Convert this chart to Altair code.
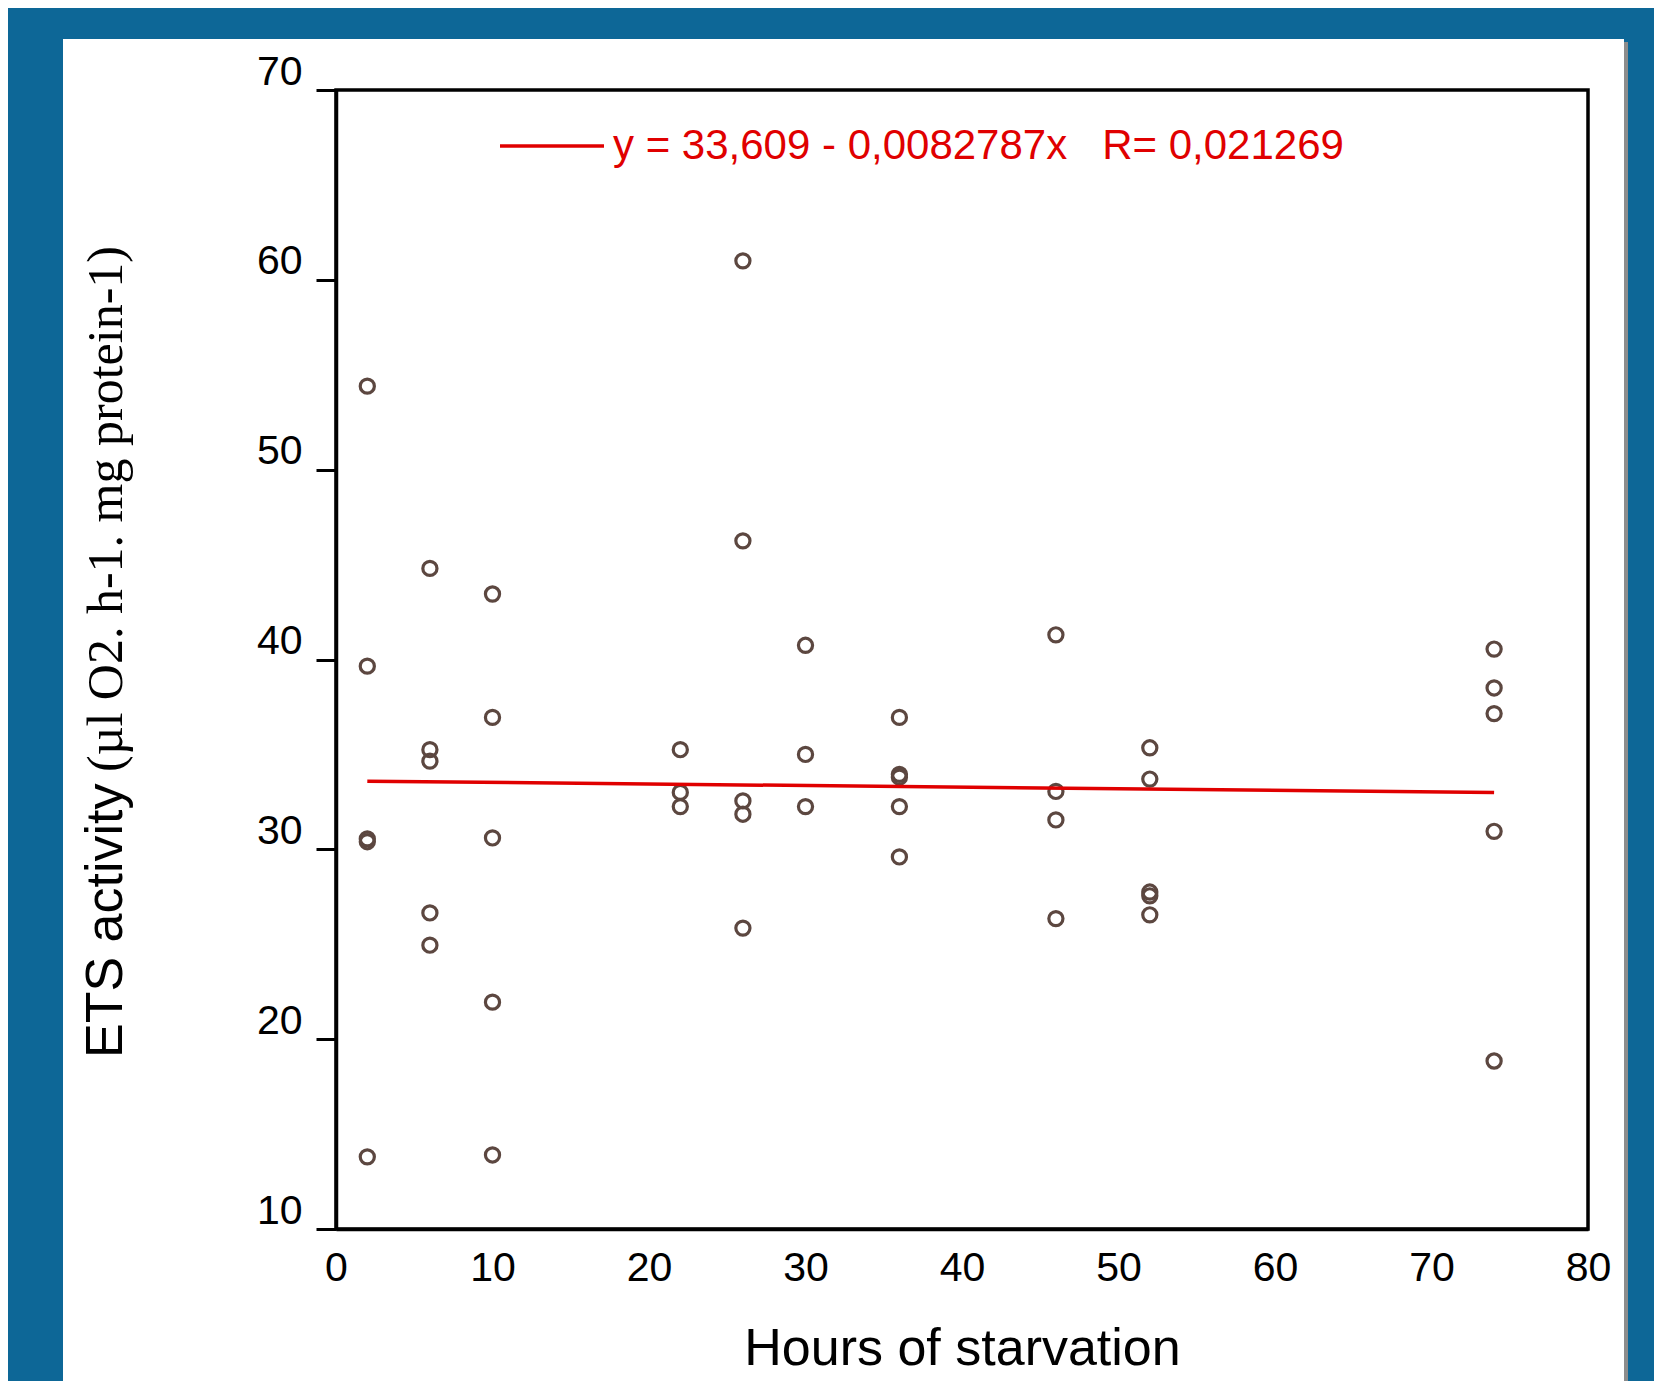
import altair as alt
import pandas as pd

# ---- data ----
hours_groups = [2, 6, 10, 22, 26, 30, 36, 46, 52, 74]
ets_groups = [
    [54.4, 39.65, 30.55, 30.4, 13.8],
    [44.8, 35.25, 34.65, 26.65, 24.95],
    [43.45, 36.95, 30.6, 21.95, 13.9],
    [35.25, 33.0, 32.25],
    [61.0, 46.25, 32.55, 31.85, 25.85],
    [40.75, 35.0, 32.25],
    [36.95, 33.95, 33.8, 32.25, 29.6],
    [41.3, 33.05, 31.55, 26.35],
    [35.35, 33.7, 27.75, 27.55, 26.55],
    [40.55, 38.5, 37.15, 30.95, 18.85],
]
fit_x = [2, 74]
fit_y = [33.592, 32.996]
fit_label = "y = 33,609 - 0,0082787x\u00a0\u00a0\u00a0R= 0,021269"
x_ticks = [0, 10, 20, 30, 40, 50, 60, 70, 80]
y_ticks = [10, 20, 30, 40, 50, 60, 70]
x_title = "Hours of starvation"
y_title_sans = "ETS activity"
y_title_serif = "(\u00b5l O2. h-1. mg protein-1)"

hours, ets = [], []
for h, vals in zip(hours_groups, ets_groups):
    for v in vals:
        hours.append(h)
        ets.append(v)
df_pts = pd.DataFrame({"hours": hours, "ets": ets})
df_fit = pd.DataFrame({"hours": fit_x, "ets": fit_y, "label": [fit_label] * len(fit_x)})

W, H = 1252, 1139
SANS = "Liberation Sans"
SERIF = "Liberation Serif"
RED = "#e00000"
PT = "#5c4740"

one = alt.Data(values=[{"a": 1}])

panel = alt.Chart(one).mark_rect(color="white").encode(
    x=alt.value(-273), x2=alt.value(1288), y=alt.value(-51), y2=alt.value(1291)
)
shadow = alt.Chart(one).mark_rect(color="#8c8c8c").encode(
    x=alt.value(1288), x2=alt.value(1292), y=alt.value(-48), y2=alt.value(1291)
)
frame = alt.Chart(one).mark_rect(filled=False, stroke="black", strokeWidth=3.5).encode(
    x=alt.value(0), x2=alt.value(W), y=alt.value(0), y2=alt.value(H)
)

x_enc = alt.X(
    "hours:Q",
    scale=alt.Scale(domain=[0, 80], nice=False, zero=False),
    axis=alt.Axis(
        values=x_ticks, title=x_title, grid=False, ticks=False, tickSize=0,
        domainColor="black", domainWidth=3.5,
        labelFont=SANS, labelFontSize=41, labelColor="black", labelPadding=19,
        labelFlush=False, labelOverlap=False,
        titleFont=SANS, titleFontSize=52, titleFontWeight="normal", titleColor="black",
        titlePadding=35, zindex=1,
    ),
)
y_enc = alt.Y(
    "ets:Q",
    scale=alt.Scale(domain=[10, 70], nice=False, zero=False),
    axis=alt.Axis(
        values=y_ticks, title=None, grid=False, ticks=True, tickSize=20, tickWidth=3,
        tickColor="black", domainColor="black", domainWidth=3.5,
        labelFont=SANS, labelFontSize=41, labelColor="black", labelPadding=14,
        labelBaseline="alphabetic", labelOffset=-6, labelFlush=False,
        labelOverlap=False, zindex=1,
    ),
)

points = alt.Chart(df_pts).mark_point(
    shape="circle", filled=False, size=200, strokeWidth=3.2, color=PT, opacity=1
).encode(x=x_enc, y=y_enc)

line = alt.Chart(df_fit).mark_line(strokeWidth=3.5).encode(
    x="hours:Q",
    y="ets:Q",
    color=alt.Color(
        "label:N",
        scale=alt.Scale(domain=[fit_label], range=[RED]),
        legend=alt.Legend(
            title=None, orient="none", legendX=162, legendY=2,
            symbolType="stroke", symbolSize=10816, symbolStrokeWidth=3.5,
            labelFont=SANS, labelFontSize=42, labelColor=RED, labelOffset=7,
            labelLimit=2000, padding=0,
        ),
    ),
)

ytitle1 = alt.Chart(alt.Data(values=[{"t": y_title_sans}])).mark_text(
    angle=270, align="left", baseline="alphabetic", font=SANS, fontSize=52, color="black"
).encode(x=alt.value(-214), y=alt.value(968), text="t:N")
ytitle2 = alt.Chart(alt.Data(values=[{"t": y_title_serif}])).mark_text(
    angle=270, align="left", baseline="alphabetic", font=SERIF, fontSize=50, color="black"
).encode(x=alt.value(-214), y=alt.value(682), text="t:N")

chart = alt.layer(panel, shadow, frame, points, line, ytitle1, ytitle2).properties(
    width=W,
    height=H,
    autosize=alt.AutoSizeParams(type="none"),
    padding={"left": 328, "top": 82, "right": 66, "bottom": 152},
    background="#0d6797",
).configure_view(strokeWidth=0)

chart.save("out.html", embed_options={"renderer": "svg", "actions": False})
